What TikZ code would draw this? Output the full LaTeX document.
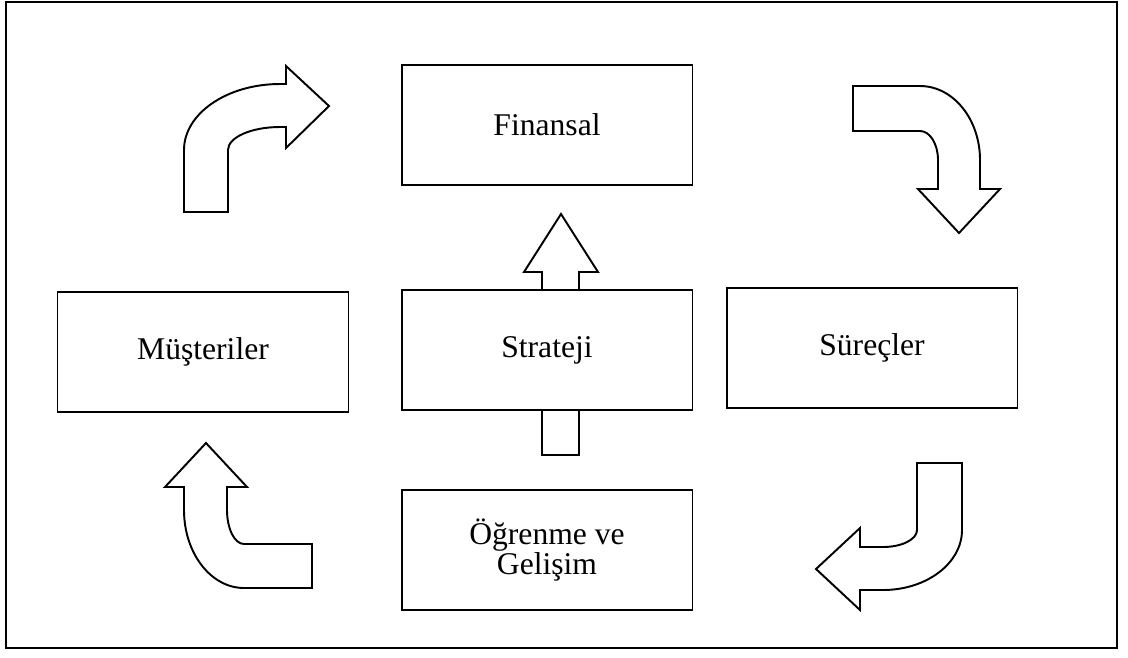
\documentclass[tikz,border=0pt]{standalone}
\usepackage{fontspec}
\setmainfont{Liberation Serif}
\tikzset{box/.style={draw,line width=1.1pt,minimum width=5.82cm,minimum height=2.4cm,
  align=center,font=\fontsize{18}{17}\selectfont},
  blockarrow/.style={line width=1.1pt,line join=miter}}

\begin{document}
\begin{tikzpicture}[x=0.02cm,y=-0.02cm]
\useasboundingbox (0,0) rectangle (1128,657);
% Cadre exterieur.
\draw[line width=1.1pt] (6,2) rectangle (1117,648);
% Les cinq perspectives.
\node[box] (finansal) at (547,125) {Finansal};
\node[box] (musteriler) at (203,352) {Müşteriler};
\node[box] (strateji) at (547,350) {Strateji};
\node[box] (surecler) at (872,348) {Süreçler};
\node[box] (ogrenme) at (547,550) {Öğrenme ve\\Gelişim};
% Fleche droite vers le haut, entre Strateji et Finansal.
\draw[blockarrow] (542,289) -- (542,272) -- (524,272) -- (561,214) -- (598,272) -- (579,272) -- (579,289);
\draw[blockarrow] (542,411) -- (542,455) -- (579,455) -- (579,411);
% Fleches courbes, dans le sens des aiguilles d'une montre.
\draw[blockarrow] (184,212) -- (184,150) arc[start angle=180,end angle=270,x radius=96,y radius=66]
 -- (286,84) -- (286,66) -- (329,106) -- (286,148) -- (286,127) -- (280,127)
 arc[start angle=270,end angle=180,x radius=52,y radius=23] -- (228,212) -- cycle;
\draw[blockarrow] (853,86) -- (920,86) arc[start angle=270,end angle=360,x radius=60,y radius=74]
 -- (980,189) -- (1000,189) -- (959,233) -- (918,189) -- (938,189) -- (938,160)
 arc[start angle=0,end angle=-90,x radius=18,y radius=29] -- (853,131) -- cycle;
\draw[blockarrow] (917,463) -- (962,463) -- (962,530) arc[start angle=0,end angle=90,x radius=79,y radius=60]
 -- (860,590) -- (860,610) -- (816,569) -- (860,528) -- (860,547) -- (883,547)
 arc[start angle=90,end angle=0,x radius=34,y radius=17] -- cycle;
\draw[blockarrow] (312,544) -- (312,588) -- (244,588) arc[start angle=90,end angle=180,x radius=60,y radius=78]
 -- (184,487) -- (165,487) -- (206,443) -- (247,487) -- (227,487) -- (227,510)
 arc[start angle=180,end angle=90,x radius=17,y radius=34] -- cycle;
\end{tikzpicture}
\end{document}
